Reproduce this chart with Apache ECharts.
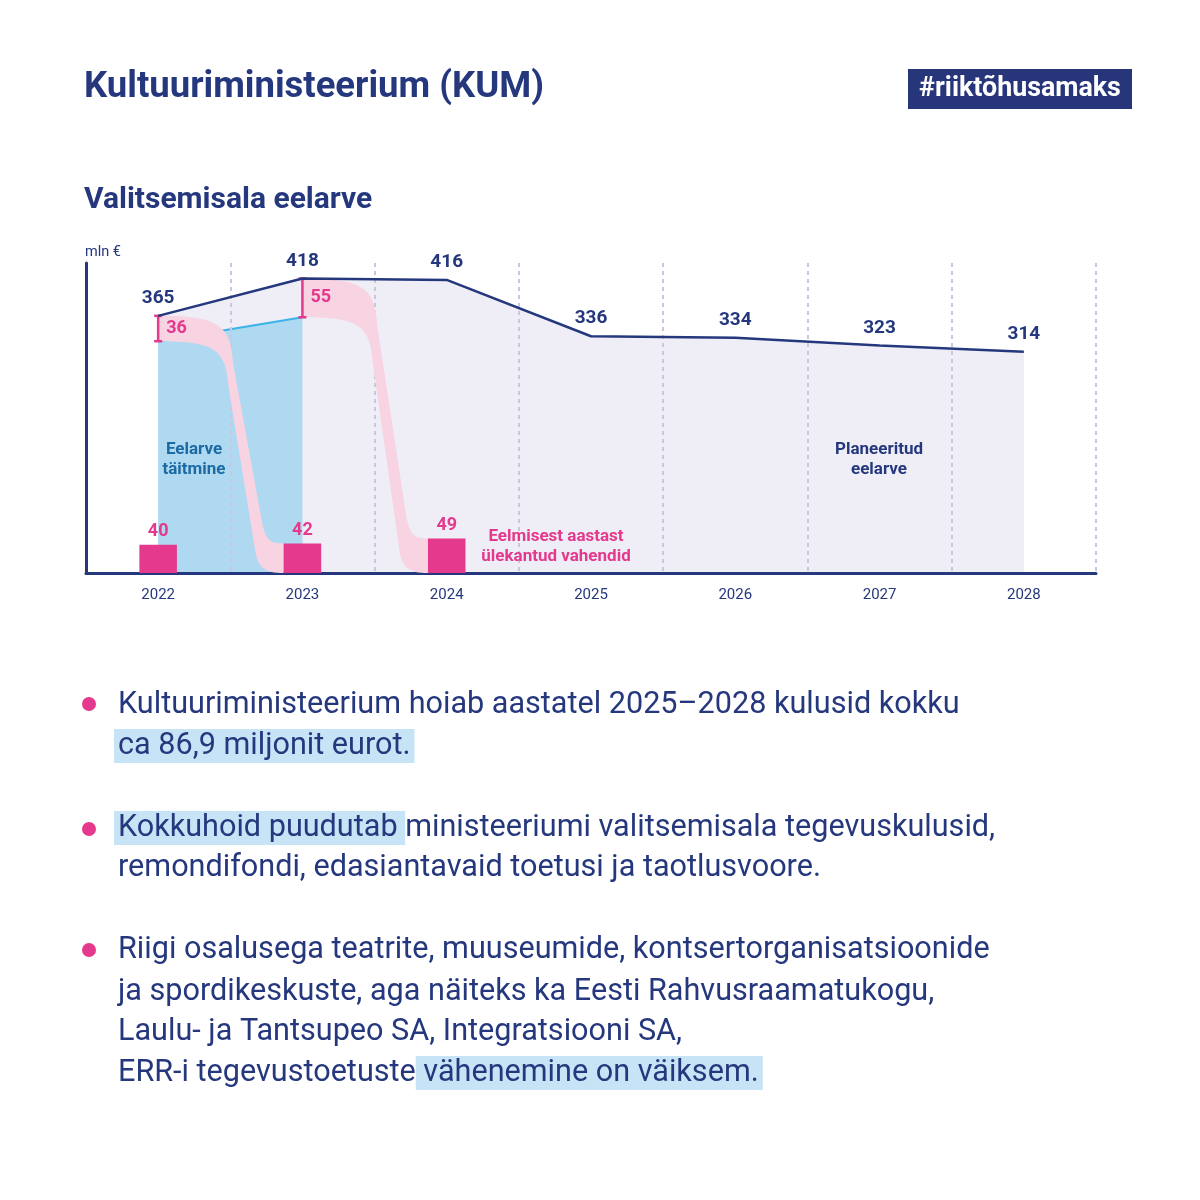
<!DOCTYPE html>
<html>
<head>
<meta charset="utf-8">
<script src="https://cdn.jsdelivr.net/npm/echarts@6/dist/echarts.min.js"></script>
<style>
html,body{margin:0;padding:0;background:#fff;}
#c{width:1200px;height:1200px;}
</style>
</head>
<body>
<div id="c"></div>
<script>
// ---- data ----
const years = ['2022', '2023', '2024', '2025', '2026', '2027', '2028'];
const budget = [365, 418, 416, 336, 334, 323, 314];          // valitsemisala eelarve
const unspentGap = [36, 55];                                  // eelarve vs täitmine (2022, 2023)
const carryover = [40, 42, 49];                               // eelmisest aastast ülekantud vahendid
const executed = unspentGap.map((g, i) => budget[i] - g);     // eelarve täitmine

// ---- colours ----
const NAVY = '#25387d';
const PINK = '#e4398c';
const RIBBON = '#f8d3e2';
const LAVENDER = '#efeef6';
const BLUE_AREA = '#aed9f0';
const BLUE_LINE = '#3db2e9';
const BLUE_TEXT = '#1c6aa3';
const HL = '#c7e4f7';
const BAR_RATIO = 0.26;
const FONT = 'Roboto';
const BFS = 30.6;

const chart = echarts.init(document.getElementById('c'), null, {renderer: 'canvas'});

const pad = (arr) => years.map((_, i) => (i < arr.length ? arr[i] : '-'));

// ribbon data: [categoryIndex, gapTop, gapBottom, nextCarryover]
const ribbonData = unspentGap.map((g, i) => [i, budget[i], executed[i], carryover[i + 1]]);
const gapData = unspentGap.map((g, i) => [i, budget[i], executed[i], g]);

const richBase = {
  n: {fontFamily: FONT, fontSize: BFS, color: NAVY},
  hl: {fontFamily: FONT, fontSize: BFS, color: NAVY, backgroundColor: HL, padding: [2, 4, 1, 4]},
  hlL: {fontFamily: FONT, fontSize: BFS, color: NAVY, backgroundColor: HL, padding: [2, 0, 1, 4]},
  hlR: {fontFamily: FONT, fontSize: BFS, color: NAVY, backgroundColor: HL, padding: [2, 4, 1, 0]}
};
function line(x, y, text) {
  return {
    type: 'text', x: x, y: y, z: 100,
    style: {text: text, rich: richBase, font: BFS + 'px Roboto', fill: NAVY, verticalAlign: 'middle', align: 'left'}
  };
}

const option = {
  animation: false,
  backgroundColor: '#fff',
  grid: {left: 86, right: 104, top: 263, bottom: 627, containLabel: false},
  xAxis: {
    type: 'category', data: years, boundaryGap: true, z: 3,
    axisLine: {lineStyle: {color: NAVY, width: 3}},
    axisTick: {show: false},
    axisLabel: {color: NAVY, fontFamily: FONT, fontSize: 15, margin: 15},
    splitLine: {show: true, interval: 0, lineStyle: {color: '#c9c7de', width: 2, type: [4, 4]}}
  },
  yAxis: {
    type: 'value', min: 0, max: 440, z: 3,
    axisLine: {show: true, lineStyle: {color: NAVY, width: 3}},
    axisTick: {show: false}, axisLabel: {show: false}, splitLine: {show: false}
  },
  series: [
    { // planned budget area
      name: 'area', type: 'line', data: budget, z: 1, symbol: 'none', silent: true,
      lineStyle: {width: 0}, areaStyle: {color: LAVENDER, opacity: 1}
    },
    { // executed budget
      name: 'executed', type: 'line', data: pad(executed), z: 2, symbol: 'none',
      lineStyle: {color: BLUE_LINE, width: 2}, areaStyle: {color: BLUE_AREA, opacity: 1}
    },
    { // ribbons
      name: 'ribbons', type: 'custom', z: 4, data: ribbonData,
      renderItem: function (params, api) {
        const i = api.value(0);
        const top = api.coord([i, api.value(1)]);
        const bot = api.coord([i, api.value(2)]);
        const end = api.coord([i + 1, api.value(3)]);
        const base = api.coord([i + 1, 0]);
        const band = api.size([1, 0])[0];
        const xs = top[0], xe = end[0] - band * BAR_RATIO / 2;
        const dx = xe - xs;
        const yT = top[1], yB = bot[1], yC = end[1], yZ = base[1];
        const X = (f) => (xs + f * dx).toFixed(1);
        const d = [
          'M', xs, yT,
          'C', X(0.5), yT, X(0.58), yT + 10, X(0.6), yT + 50,
          'L', X(0.83), yC - 20,
          'C', X(0.86), yC - 3, X(0.9), yC, xe, yC,
          'L', xe, yZ,
          'C', X(0.85), yZ, X(0.79), yZ - 5, X(0.77), yZ - 25,
          'L', X(0.56), yB + 45,
          'C', X(0.54), yB + 8, X(0.45), yB, xs, yB,
          'Z'
        ].join(' ');
        return {type: 'path', shape: {pathData: d}, style: {fill: RIBBON}};
      }
    },
    { // carry-over bars
      name: 'carryover', type: 'bar', data: pad(carryover), z: 5, barWidth: (BAR_RATIO * 100) + '%',
      itemStyle: {color: PINK},
      label: {show: true, position: 'top', distance: 4, color: PINK, fontFamily: FONT, fontWeight: 'bold', fontSize: 18}
    },
    { // gap markers
      name: 'gap', type: 'custom', z: 6, data: gapData,
      renderItem: function (params, api) {
        const i = api.value(0);
        const a = api.coord([i, api.value(1)]);
        const b = api.coord([i, api.value(2)]);
        const x = a[0];
        const st = {stroke: PINK, lineWidth: 2.5};
        return {
          type: 'group', children: [
            {type: 'line', shape: {x1: x, y1: a[1], x2: x, y2: b[1]}, style: st},
            {type: 'line', shape: {x1: x - 4, y1: a[1], x2: x + 4, y2: a[1]}, style: st},
            {type: 'line', shape: {x1: x - 4, y1: b[1], x2: x + 4, y2: b[1]}, style: st},
            {type: 'text', x: x + 8, y: (a[1] + b[1]) / 2,
              style: {text: String(api.value(3)), fill: PINK, font: 'bold 18px Roboto', align: 'left', verticalAlign: 'middle'}}
          ]
        };
      }
    },
    { // planned budget line
      name: 'budget', type: 'line', data: budget, z: 7, symbol: 'circle', symbolSize: 0.1, showSymbol: true,
      itemStyle: {color: NAVY},
      lineStyle: {color: NAVY, width: 2.5},
      label: {show: true, position: 'top', distance: 8, color: NAVY, fontFamily: FONT, fontWeight: 'bold', fontSize: 19}
    }
  ],
  graphic: [
    {type: 'text', x: 84, y: 88, z: 100, style: {text: 'Kultuuriministeerium (KUM)', font: 'bold 36.5px Roboto', fill: NAVY, verticalAlign: 'middle'}},
    {type: 'rect', shape: {x: 908, y: 69, width: 224, height: 40}, z: 99, style: {fill: '#27367a'}},
    {type: 'text', x: 1020, y: 89, z: 100, style: {text: '#riiktõhusamaks', font: 'bold 26.8px Roboto', fill: '#fff', align: 'center', verticalAlign: 'middle'}},
    {type: 'text', x: 84, y: 200, z: 100, style: {text: 'Valitsemisala eelarve', font: 'bold 30px Roboto', fill: NAVY, verticalAlign: 'middle'}},
    {type: 'text', x: 85, y: 252, z: 100, style: {text: 'mln €', font: '14.5px Roboto', fill: NAVY, verticalAlign: 'middle'}},
    {type: 'text', x: 194, y: 460, z: 100, style: {text: 'Eelarve\ntäitmine', font: 'bold 17px Roboto', lineHeight: 20, fill: BLUE_TEXT, align: 'center', verticalAlign: 'middle'}},
    {type: 'text', x: 879, y: 460, z: 100, style: {text: 'Planeeritud\neelarve', font: 'bold 17px Roboto', lineHeight: 20, fill: NAVY, align: 'center', verticalAlign: 'middle'}},
    {type: 'text', x: 556, y: 547, z: 100, style: {text: 'Eelmisest aastast\nülekantud vahendid', font: 'bold 17px Roboto', lineHeight: 20, fill: PINK, align: 'center', verticalAlign: 'middle'}},
    {type: 'circle', shape: {cx: 89, cy: 704, r: 7}, z: 100, style: {fill: PINK}},
    {type: 'circle', shape: {cx: 89, cy: 829, r: 7}, z: 100, style: {fill: PINK}},
    {type: 'circle', shape: {cx: 89, cy: 950, r: 7}, z: 100, style: {fill: PINK}},
    line(118, 705, '{n|Kultuuriministeerium hoiab aastatel 2025–2028 kulusid kokku}'),
    line(114, 746, '{hl|ca 86,9 miljonit eurot.}'),
    line(114, 828, '{hlL|Kokkuhoid puudutab }{n|ministeeriumi valitsemisala tegevuskulusid,}'),
    line(118, 868, '{n|remondifondi, edasiantavaid toetusi ja taotlusvoore.}'),
    line(118, 950, '{n|Riigi osalusega teatrite, muuseumide, kontsertorganisatsioonide}'),
    line(118, 992, '{n|ja spordikeskuste, aga näiteks ka Eesti Rahvusraamatukogu,}'),
    line(118, 1032, '{n|Laulu- ja Tantsupeo SA, Integratsiooni SA,}'),
    line(118, 1073, '{n|ERR-i tegevustoetuste}{hlR| vähenemine on väiksem.}')
  ]
};
chart.setOption(option);
</script>
</body>
</html>
